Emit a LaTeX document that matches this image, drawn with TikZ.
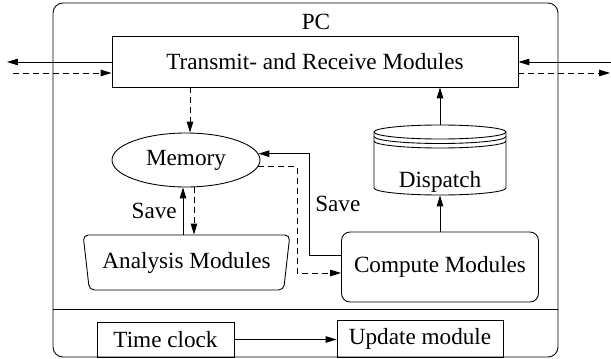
\documentclass[tikz,border=0pt]{standalone}
\usepackage{fontspec}
\setmainfont{Liberation Serif}
\usetikzlibrary{positioning,shapes.geometric,arrows.meta}

\begin{document}
\begin{tikzpicture}[x=0.02cm,y=-0.02cm,line width=0.5pt,
        every node/.style={font=\fontsize{13.2}{16}\selectfont},
        box/.style={draw,rectangle,inner sep=0pt},
        arr/.style={-{Triangle[length=2.2mm,width=1.3mm]}},
        darr/.style={arr,dash pattern=on 1.2mm off 0.8mm}]
    \useasboundingbox (0,0) rectangle (611,358);

    % PC frame, clock part below the line
    \draw[rounded corners=0.2cm] (53,3) rectangle (558,357);
    \draw (53,309) -- (558,309);
    \node (pc) at (316,22) {PC};

    \node[box,minimum width=8.12cm,minimum height=1.02cm] (trx) at (315,61.5) {Transmit- and Receive Modules};
    \node[draw,ellipse,inner sep=0pt,minimum width=2.96cm,minimum height=1.08cm] (mem) at (186,160) {Memory};
    \node[draw,trapezium,trapezium stretches=true,shape border rotate=180,
          trapezium left angle=75.7,trapezium right angle=75.7,rounded corners=0.1cm,
          inner sep=0pt,minimum width=4.14cm,minimum height=1.1cm] (ana) at (186.5,262.5) {Analysis Modules};
    \node[box,rounded corners=0.17cm,minimum width=3.94cm,minimum height=1.4cm] (cmp) at (440,267) {Compute Modules};

    % dispatch queue: text node, cylinder drawn round it
    \node[inner sep=0pt,minimum width=2.64cm,text height=1.26cm,text depth=0.14cm] (disp) at (440,160) {Dispatch};
    \draw (440,132) ellipse [x radius=1.32cm,y radius=0.14cm];
    \foreach \y in {136.5,141} {
        \draw (374,\y) arc[start angle=180,end angle=360,x radius=1.32cm,y radius=0.14cm];
    }
    \draw (374,132) -- (374,188) arc[start angle=180,end angle=360,x radius=1.32cm,y radius=0.14cm] -- (506,132);

    % links to the outside
    \coordinate (outl) at (7,62);
    \coordinate (inl) at (13,73);
    \coordinate (inr) at (611,62);
    \coordinate (outr) at (610,73);
    \draw[arr] (trx.west |- outl) -- (outl);
    \draw[darr] (inl) -- (trx.west |- inl);
    \draw[arr] (inr) -- (trx.east |- inr);
    \draw[darr] (trx.east |- outr) -- (outr);

    \draw[darr] (trx.south -| 190,0) -- (mem.north -| 190,0);
    \draw[arr] (disp.north) -- (trx.south -| disp.north);
    \draw[arr] (cmp.north) -- (disp.south);

    \draw[arr] (ana.north -| 183,0) -- node[left]{Save} (mem.south -| 183,0);
    \draw[darr] (mem.south -| 194,0) -- (ana.north -| 194,0);

    \draw[arr] (cmp.west |- 0,255) -| node[right,pos=0.75]{Save} (mem.5 -| 309,0) -- (mem.5);
    \draw[darr] (mem.-5) -| (297,273) -- (cmp.west |- 0,273);

    % clock part
    \node[box,minimum width=2.74cm,minimum height=0.7cm] (clk) at (165.5,339.5) {Time clock};
    \node[box,minimum width=3.32cm,minimum height=0.74cm] (upd) at (420,338.5) {Update module};
    \draw[arr] (clk.east) -- (clk.east -| upd.west);
\end{tikzpicture}
\end{document}
